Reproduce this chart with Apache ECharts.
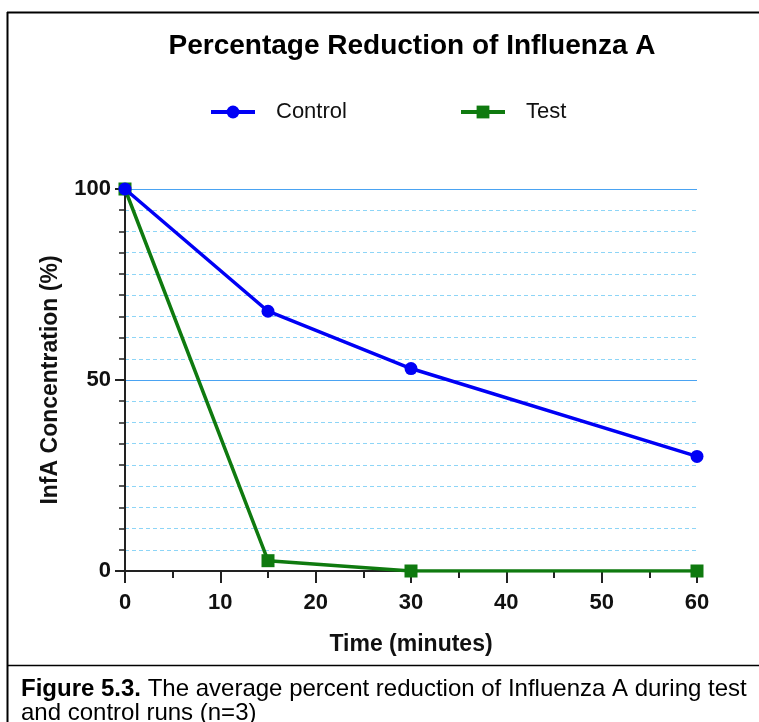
<!DOCTYPE html>
<html>
<head>
<meta charset="UTF-8">
<title>Percentage Reduction of Influenza A</title>
<script src="https://cdn.jsdelivr.net/npm/echarts@6/dist/echarts.min.js"></script>
<style>
  html, body { margin: 0; padding: 0; background: #fff; }
  #main { width: 759px; height: 722px; }
</style>
</head>
<body>
<div id="main"></div>
<script type="text/javascript">
  // data
  var times = [0, 15, 30, 60];
  var control = [100, 68, 53, 30];
  var test = [100, 2.7, 0, 0];
  var xTicks = [0, 10, 20, 30, 40, 50, 60];
  var yTicks = [0, 50, 100];

  function pairs(xs, ys) {
    return xs.map(function (x, i) { return [x, ys[i]]; });
  }

  var font = '"Liberation Sans", Arial, sans-serif';
  var chart = echarts.init(document.getElementById('main'));

  var legendText = { fontFamily: font, fontSize: 22, color: '#111', padding: [0, 0, 0, 16] };

  var option = {
    backgroundColor: '#fff',
    animation: false,
    textStyle: { fontFamily: font },
    legend: [
      { data: ['Control'], left: 204, top: 96, itemWidth: 44, itemHeight: 16,
        lineStyle: { width: 4 }, textStyle: legendText },
      { data: ['Test'], left: 454, top: 96, itemWidth: 44, itemHeight: 16,
        lineStyle: { width: 4 }, textStyle: legendText }
    ],
    grid: { left: 125, right: 62, top: 189, bottom: 151 },
    xAxis: {
      type: 'value',
      min: xTicks[0],
      max: xTicks[xTicks.length - 1],
      interval: 10,
      name: 'Time (minutes)',
      nameLocation: 'middle',
      nameGap: 62,
      nameTextStyle: { fontFamily: font, fontSize: 23, fontWeight: 'bold', color: '#111' },
      axisLine: { lineStyle: { color: '#222', width: 2 } },
      axisTick: { length: 12, lineStyle: { color: '#222', width: 2 } },
      minorTick: { show: true, splitNumber: 2, length: 7, lineStyle: { color: '#222', width: 2 } },
      axisLabel: { fontFamily: font, fontSize: 22, fontWeight: 'bold', color: '#111', margin: 21 },
      splitLine: { show: false }
    },
    yAxis: {
      type: 'value',
      min: yTicks[0],
      max: yTicks[yTicks.length - 1],
      interval: 50,
      name: 'InfA Concentration (%)',
      nameLocation: 'middle',
      nameGap: 63,
      nameTextStyle: { fontFamily: font, fontSize: 23, fontWeight: 'bold', color: '#111' },
      axisLine: { show: true, lineStyle: { color: '#222', width: 2 } },
      axisTick: { show: true, length: 10, lineStyle: { color: '#222', width: 2 } },
      minorTick: { show: true, splitNumber: 9, length: 6, lineStyle: { color: '#222', width: 1.5 } },
      axisLabel: { fontFamily: font, fontSize: 22, fontWeight: 'bold', color: '#111', margin: 14 },
      splitLine: { show: true, lineStyle: { color: '#4aa3f2', width: 1 } },
      minorSplitLine: { show: true, lineStyle: { color: '#8dd5f7', width: 1, type: [4, 3] } }
    },
    series: [
      {
        name: 'Control',
        type: 'line',
        z: 4,
        data: pairs(times, control),
        symbol: 'circle',
        symbolSize: 13,
        itemStyle: { color: '#0000f5' },
        lineStyle: { color: '#0000f5', width: 3.5 }
      },
      {
        name: 'Test',
        type: 'line',
        z: 3,
        data: pairs(times, test),
        symbol: 'rect',
        symbolSize: 13,
        itemStyle: { color: '#0f7a0f' },
        lineStyle: { color: '#0f7a0f', width: 3.5 }
      }
    ],
    graphic: [
      { type: 'line', shape: { x1: 7.5, y1: 12, x2: 7.5, y2: 722 }, style: { stroke: '#000', lineWidth: 2 } },
      { type: 'line', shape: { x1: 7, y1: 12.5, x2: 759, y2: 12.5 }, style: { stroke: '#000', lineWidth: 2 } },
      { type: 'line', shape: { x1: 7, y1: 665.5, x2: 759, y2: 665.5 }, style: { stroke: '#000', lineWidth: 1.5 } },
      {
        type: 'text', x: 412, y: 32,
        style: {
          text: 'Percentage Reduction of Influenza A',
          align: 'center',
          font: 'bold 28px "Liberation Sans", Arial, sans-serif', fill: '#000'
        }
      },
      {
        type: 'text', x: 21, y: 677,
        style: {
          text: '{b|Figure 5.3.} The average percent reduction of Influenza A during test\nand control runs (n=3)',
          fill: '#000', lineHeight: 24,
          font: '24px "Liberation Sans", Arial, sans-serif',
          rich: {
            b: { fontWeight: 'bold', fontSize: 24, fontFamily: font, lineHeight: 24 }
          }
        }
      }
    ]
  };

  chart.setOption(option);
</script>
</body>
</html>
